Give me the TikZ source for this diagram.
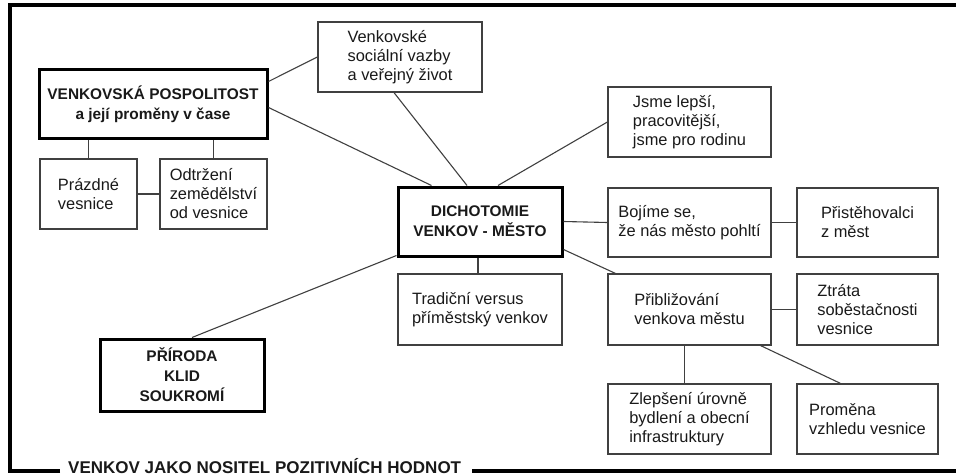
\documentclass[tikz,border=0pt]{standalone}
\usepackage{fontspec}
\setmainfont{Liberation Sans}
\usetikzlibrary{arrows}

\begin{document}
\begin{tikzpicture}[x=1pt,y=-1pt]

	\tikzstyle plain box=[draw=black!75, line width=1.2pt, align=left, inner sep=0pt, text=black!90, font=\fontsize{16.4}{19}\selectfont];
	\tikzstyle main box=[draw=black, line width=3pt, align=center, inner sep=0pt, text=black!90, font=\bfseries\fontsize{15.4}{20}\selectfont];
	\tikzstyle link lines=[draw=black!75, line width=1.1pt];
	\tikzstyle frame lines=[line width=3.5pt];

	\useasboundingbox (0,0) rectangle (956,476);

	% left part
	\node[main box, minimum width=228pt, minimum height=69pt] (pospol) at (153,104.5) {VENKOVSKÁ POSPOLITOST\\a její proměny v čase};
	\node[plain box, minimum width=164pt, minimum height=70pt] (vazby) at (400,57) {Venkovské\\sociální vazby\\a veřejný život};
	\node[plain box, minimum width=97pt, minimum height=70pt] (prazdne) at (88.5,194) {Prázdné\\vesnice};
	\node[plain box, minimum width=107pt, minimum height=70pt] (odtrzeni) at (213.5,194) {Odtržení\\zemědělství\\od vesnice};
	\node[main box, minimum width=164pt, minimum height=72pt] (priroda) at (182,375) {PŘÍRODA\\KLID\\SOUKROMÍ};

	% middle
	\node[main box, minimum width=164pt, minimum height=69pt] (dicho) at (480,221.5) {DICHOTOMIE\\VENKOV - MĚSTO};
	\node[plain box, minimum width=164pt, minimum height=71pt] (tradicni) at (480,309.5) {Tradiční versus\\příměstský venkov};

	% right part
	\node[plain box, minimum width=163pt, minimum height=70pt] (lepsi) at (689.5,122) {Jsme lepší,\\pracovitější,\\jsme pro rodinu};
	\node[plain box, minimum width=163pt, minimum height=69pt] (bojime) at (689.5,222.5) {Bojíme se,\\že nás město pohltí};
	\node[plain box, minimum width=141pt, minimum height=69pt] (pristeh) at (867.5,222.5) {Přistěhovalci\\z měst};
	\node[plain box, minimum width=163pt, minimum height=71pt] (priblizovani) at (689.5,309.5) {Přibližování\\venkova městu};
	\node[plain box, minimum width=141pt, minimum height=71pt] (ztrata) at (867.5,309.5) {Ztráta\\soběstačnosti\\vesnice};
	\node[plain box, minimum width=163pt, minimum height=70pt] (zlepseni) at (689.5,419) {Zlepšení úrovně\\bydlení a obecní\\infrastruktury};
	\node[plain box, minimum width=141pt, minimum height=70pt] (promena) at (867.5,419) {Proměna\\vzhledu vesnice};

	% links
	\draw[link lines] ([yshift=-13pt]pospol.north east) -- (vazby.west);
	\draw[link lines] ([yshift=-3pt]pospol.east) -- ([xshift=35pt]dicho.north west);
	\draw[link lines] (prazdne.north |- pospol.south) -- (prazdne.north);
	\draw[link lines] (odtrzeni.north |- pospol.south) -- (odtrzeni.north);
	\draw[link lines] (prazdne.east) -- (odtrzeni.west);
	\draw[link lines] ([xshift=-6pt]vazby.south) -- ([xshift=-13pt]dicho.north);
	\draw[link lines] ([xshift=18pt]dicho.north) -- (lepsi.west);
	\draw[link lines] (dicho.east) -- (bojime.west);
	\draw[link lines] (bojime.east) -- (pristeh.west);
	\draw[link lines] ([xshift=-2pt]dicho.south) -- ([xshift=-2pt]tradicni.north);
	\draw[link lines] ([yshift=8pt]dicho.south east) -- ([xshift=8pt]priblizovani.north west);
	\draw[link lines] (priblizovani.east) -- (ztrata.west);
	\draw[link lines] ([xshift=-5pt]priblizovani.south) -- ([xshift=-5pt]zlepseni.north);
	\draw[link lines] ([xshift=-11pt]priblizovani.south east) -- ([xshift=-27pt]promena.north);
	\draw[link lines] ([xshift=10pt]priroda.north) -- ([yshift=2pt]dicho.south west);

	% frame with title
	\node[inner sep=0pt, anchor=base west, text=black!90, font=\bfseries\fontsize{17}{20}\selectfont] (motto) at (68,473.5) {VENKOV JAKO NOSITEL POZITIVNÍCH HODNOT};
	\draw[frame lines] (60,471) -| (10,5) -- (956,5);
	\draw[frame lines] (472,471) -- (956,471);

\end{tikzpicture}
\end{document}
